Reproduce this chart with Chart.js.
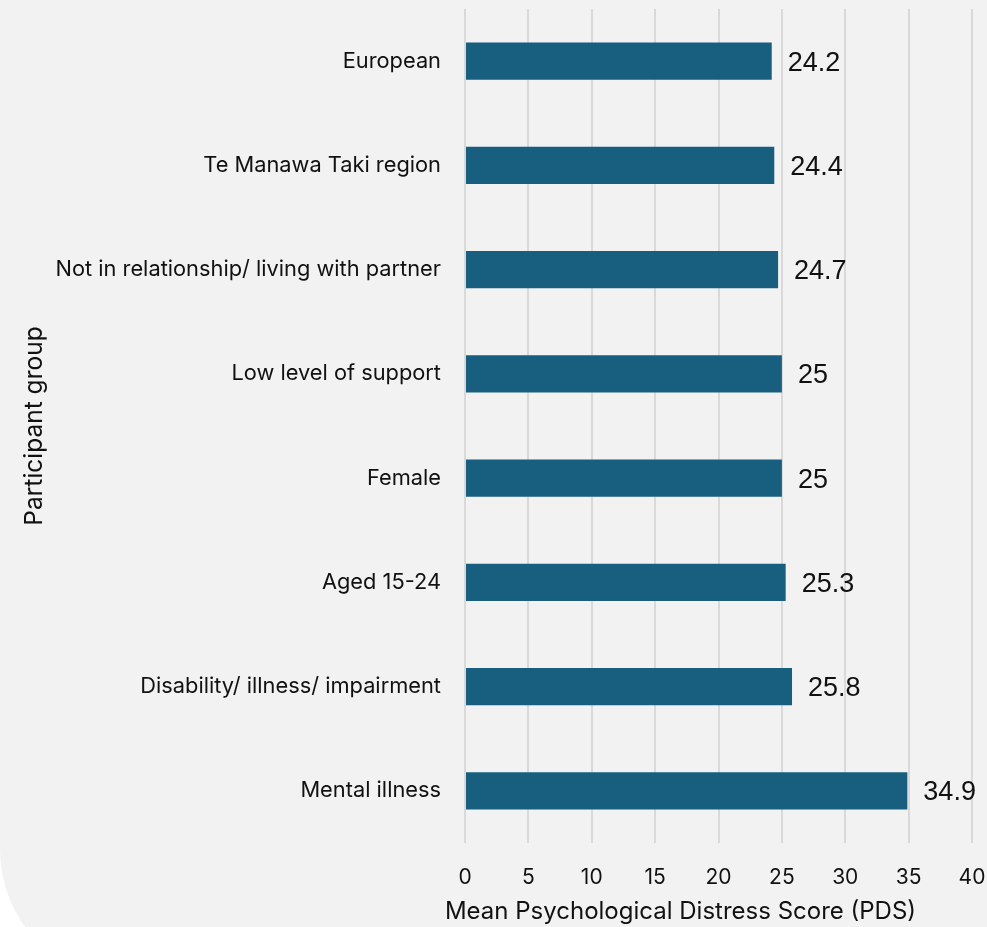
<!DOCTYPE html>
<html>
<head>
<meta charset="utf-8">
<script src="https://cdn.jsdelivr.net/npm/chart.js@4"></script>
<style>
  html, body { margin: 0; padding: 0; background: #ffffff; overflow: hidden; }
  #wrap {
    position: absolute; left: 0; top: 0;
    width: 987px; height: 980px;
    background: #f2f2f2;
    border-bottom-left-radius: 130px;
  }
  #box { position: absolute; left: 0; top: 0; width: 987px; height: 927px; }
</style>
</head>
<body>
<div id="wrap"></div>
<div id="box"><canvas id="chartCanvas"></canvas></div>
<script>
// Participant groups and their mean PDS
const groups = [
    'European',
    'Te Manawa Taki region',
    'Not in relationship/ living with partner',
    'Low level of support',
    'Female',
    'Aged 15-24',
    'Disability/ illness/ impairment',
    'Mental illness'
];
const meanScores = [24.2, 24.4, 24.7, 25, 25, 25.3, 25.8, 34.9];
const xTicks = [0, 5, 10, 15, 20, 25, 30, 35, 40];
const xTitle = 'Mean Psychological Distress Score (PDS)';

const labelFont = 'Inter, "Open Sans", sans-serif';

// Draw the value next to each bar
const valueLabels = {
    id: 'valueLabels',
    afterDatasetsDraw(chart) {
        const ctx = chart.ctx;
        const meta = chart.getDatasetMeta(0);
        ctx.save();
        ctx.font = '27px "Liberation Sans", Arial, sans-serif';
        ctx.fillStyle = '#111111';
        ctx.textAlign = 'left';
        ctx.textBaseline = 'middle';
        meta.data.forEach(function(bar, i) {
            ctx.fillText(String(meanScores[i]), bar.x + 16, bar.y + 2);
        });
        ctx.restore();
    }
};

// x axis title sits a bit left of the plot centre in the original
const xAxisTitle = {
    id: 'xAxisTitle',
    afterDraw(chart) {
        const ctx = chart.ctx;
        const area = chart.chartArea;
        ctx.save();
        ctx.font = '24px ' + labelFont;
        ctx.fillStyle = '#111111';
        ctx.textAlign = 'center';
        ctx.textBaseline = 'middle';
        ctx.fillText(xTitle, (area.left + area.right) / 2 - 38, chart.height - 15);
        ctx.restore();
    }
};

var ctx = document.getElementById('chartCanvas').getContext('2d');
var pdsChart = new Chart(ctx, {
    type: 'bar',
    data: {
        labels: groups,
        datasets: [{
            data: meanScores,
            backgroundColor: '#175e7f',
            borderWidth: 0,
            barPercentage: 0.355,
            categoryPercentage: 1
        }]
    },
    options: {
        indexAxis: 'y',
        responsive: true,
        maintainAspectRatio: false,
        animation: false,
        layout: { padding: { top: 9, right: 15, bottom: 2, left: 0 } },
        plugins: {
            legend: { display: false },
            tooltip: { enabled: false }
        },
        scales: {
            x: {
                min: 0,
                max: 40,
                afterBuildTicks: function(scale) {
                    scale.ticks = xTicks.map(function(v) { return { value: v }; });
                },
                // fixed axis height, no extra side padding for the end labels
                afterFit: function(scale) {
                    scale.height = 82;
                    scale.paddingLeft = 0;
                    scale.paddingRight = 0;
                },
                grid: { color: '#d9d9d9', lineWidth: 2, drawTicks: false },
                border: { display: false },
                ticks: {
                    color: '#111111',
                    padding: 22,
                    font: { family: labelFont, size: 21 }
                }
            },
            y: {
                grid: { display: false, drawTicks: false },
                border: { display: false },
                afterFit: function(scale) {
                    scale.width = 465;
                    scale.paddingTop = 0;
                    scale.paddingBottom = 0;
                },
                ticks: {
                    color: '#111111',
                    padding: 24,
                    font: { family: labelFont, size: 21.8 }
                },
                title: {
                    display: true,
                    text: 'Participant group',
                    color: '#111111',
                    padding: { top: 20, bottom: 0 },
                    font: { family: labelFont, size: 24.5 }
                }
            }
        }
    },
    plugins: [valueLabels, xAxisTitle]
});
</script>
</body>
</html>
